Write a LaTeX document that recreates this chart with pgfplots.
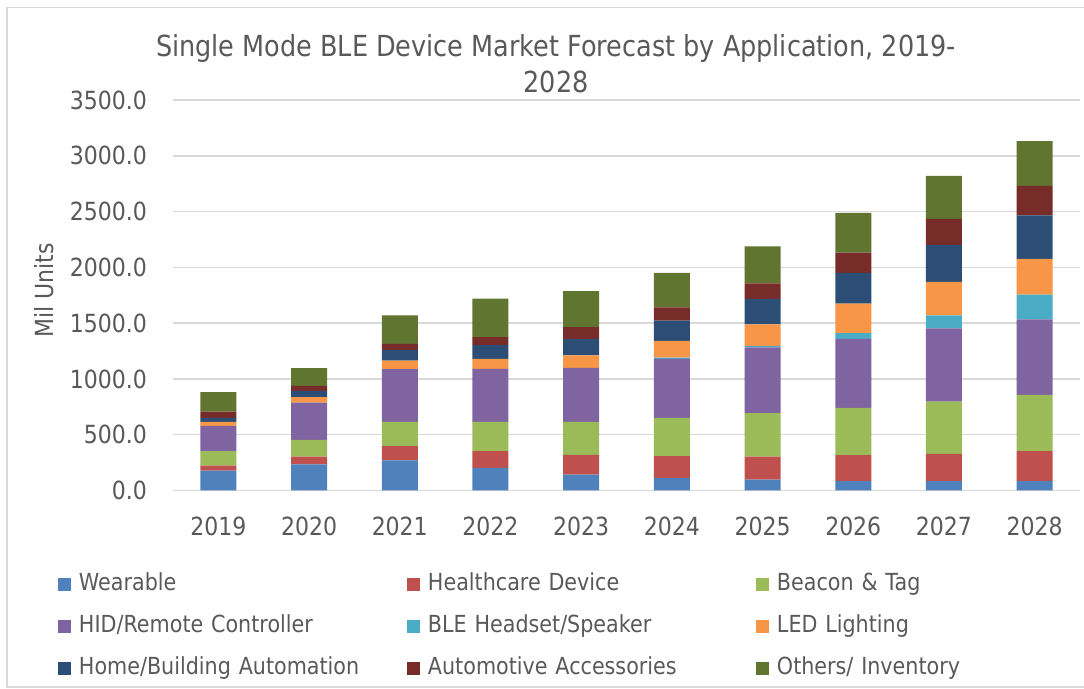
\documentclass[border=0pt]{standalone}
\usepackage{fontspec}
\setmainfont{DejaVu Sans}[FakeStretch=0.88]
\usepackage{pgfplots}
\usepackage{pgfplotstable}
\pgfplotsset{compat=1.18}
\definecolor{txt}{HTML}{595959}
\definecolor{grd}{HTML}{D9D9D9}
\definecolor{cWear}{HTML}{4F81BD}
\definecolor{cHealth}{HTML}{C0504D}
\definecolor{cBeacon}{HTML}{9BBB59}
\definecolor{cHID}{HTML}{8064A2}
\definecolor{cHead}{HTML}{4BACC6}
\definecolor{cLED}{HTML}{F79646}
\definecolor{cHome}{HTML}{2C4D75}
\definecolor{cAuto}{HTML}{772C2A}
\definecolor{cOther}{HTML}{5F7530}
\pgfplotstableread{
x wear health beacon hid head led home auto other
0 178 45 129 227 0 36 36 56 174
1 235 68 150 335 0 49 56 45 159
2 271 126 218 473 0 77 96 54 255
3 202 150 263 476 0 89 123 72 344
4 142 177 296 485 0 110 150 105 323
5 112 195 344 529 12 150 180 119 309
6 97 207 389 589 15 192 228 140 332
7 85 231 425 619 51 263 276 182 356
8 85 243 469 655 117 300 332 233 386
9 85 267 505 676 222 320 392 264 400
}\datatable
\begin{document}
\begin{tikzpicture}
\path[use as bounding box] (0pt,0pt) rectangle (1084pt,688pt);
\draw[grd, line width=1.5pt] (1090pt,680.5pt) -- (7pt,680.5pt) -- (7pt,0.8pt) -- (1090pt,0.8pt);
\begin{axis}[
  at={(173pt,197.5pt)}, anchor=south west,
  scale only axis, width=907pt, height=390.5pt,
  ybar stacked, bar width=36pt,
  xmin=-0.5, xmax=9.5, ymin=0, ymax=3500,
  xtick={0,...,9},
  xticklabels={2019,2020,2021,2022,2023,2024,2025,2026,2027,2028},
  ytick={0,500,...,3500},
  /pgf/number format/assume math mode=true,
  yticklabel={\pgfmathprintnumber[fixed,fixed zerofill,precision=1,1000 sep={}]{\tick}},
  ymajorgrids, grid style={grd, line width=1.5pt},
  axis line style={draw=none},
  major tick style={draw=none},
  tick label style={font=\fontsize{25}{30}\selectfont, text=txt, inner sep=0pt},
  yticklabel style={anchor=east, xshift=-26pt},
  xticklabel style={anchor=north, yshift=-26pt},
  ylabel={Mil Units},
  ylabel style={at={(axis description cs:-0.1422,0.513)}, anchor=center, font=\fontsize{25}{30}\selectfont, text=txt},
  legend columns=3,
  legend cell align=left,
  legend image code/.code={\fill[#1] (0pt,-6.5pt) rectangle (13pt,6.5pt); \path (21pt,0pt);},
  legend style={draw=none, fill=none, inner sep=0pt, outer sep=0pt,
    at={(axis description cs:-0.1268,-0.2125)}, anchor=north west,
    column sep=0pt, row sep=20pt,
    font=\fontsize{23.5}{28}\selectfont, text=txt,
    nodes={inner xsep=0pt, inner ysep=0pt, text width=328pt, text height=17pt, text depth=5pt}},
  clip=false,
]
\addplot+[fill=cWear, draw=none] table[x=x,y=wear]{\datatable};
\addlegendentry{Wearable}
\addplot+[fill=cHealth, draw=none] table[x=x,y=health]{\datatable};
\addlegendentry{Healthcare Device}
\addplot+[fill=cBeacon, draw=none] table[x=x,y=beacon]{\datatable};
\addlegendentry{Beacon \& Tag}
\addplot+[fill=cHID, draw=none] table[x=x,y=hid]{\datatable};
\addlegendentry{HID/Remote Controller}
\addplot+[fill=cHead, draw=none] table[x=x,y=head]{\datatable};
\addlegendentry{BLE Headset/Speaker}
\addplot+[fill=cLED, draw=none] table[x=x,y=led]{\datatable};
\addlegendentry{LED Lighting}
\addplot+[fill=cHome, draw=none] table[x=x,y=home]{\datatable};
\addlegendentry{Home/Building Automation}
\addplot+[fill=cAuto, draw=none] table[x=x,y=auto]{\datatable};
\addlegendentry{Automotive Accessories}
\addplot+[fill=cOther, draw=none] table[x=x,y=other]{\datatable};
\addlegendentry{Others/ Inventory}
\node[anchor=base, font=\fontsize{29}{34}\selectfont, text=txt, inner sep=0pt] at (axis description cs:0.4223,1.1101) {Single Mode BLE Device Market Forecast by Application, 2019-};
\node[anchor=base, font=\fontsize{29}{34}\selectfont, text=txt, inner sep=0pt] at (axis description cs:0.4223,1.0192) {2028};
\end{axis}
\end{tikzpicture}
\end{document}
